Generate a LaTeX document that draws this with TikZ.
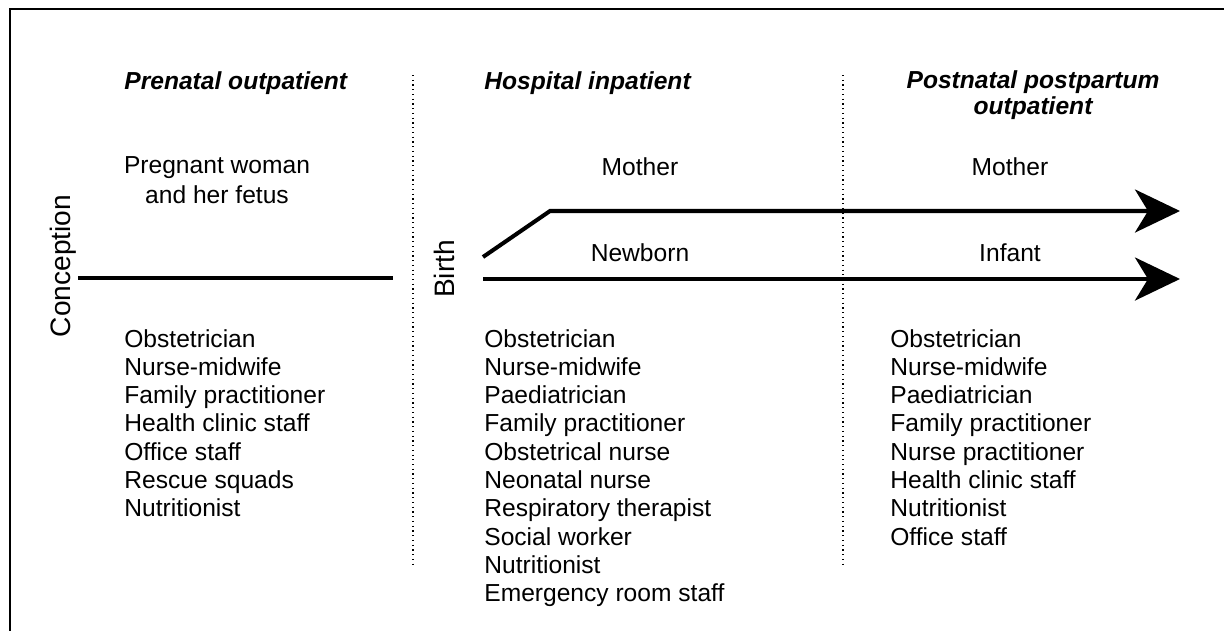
\documentclass[tikz,border=0pt]{standalone}
\usepackage{fontspec}
\setmainfont{Liberation Sans}
\usetikzlibrary{arrows.meta}

\begin{document}
\begin{tikzpicture}[x=0.02cm, y=-0.02cm,
    item/.style = {inner sep=0, anchor=base west, font=\fontsize{14}{16.1}\selectfont},
    head/.style = {inner sep=0, font=\fontsize{14}{16.1}\selectfont\bfseries\itshape},
    side/.style = {inner sep=0, rotate=90, font=\fontsize{16}{18}\selectfont},
    track/.style = {line width=2.3pt},
    period/.style = {dotted, line width=0.7pt},
    big/.style = {-{Stealth[length=0.9cm, width=0.86cm, inset=0.26cm]}}]
    \useasboundingbox (0,0) rectangle (1224,630);
    \clip (0,0) rectangle (1224,630);
    \draw [line width=1.2pt] (10,9) rectangle (1240,660);

    %%%%%%%%%% headings %%%%%%%%%%
    \node [head, anchor=base west] (hpre) at (124, 89) {Prenatal outpatient};
    \node [head, anchor=base west] (hhos) at (484, 89) {Hospital inpatient};
    \node [head, anchor=base] (hpost1) at (1033, 88) {Postnatal postpartum};
    \node [head, anchor=base] (hpost2) at (1033, 114) {outpatient};

    % period borders
    \coordinate (d1top) at (413, 75);
    \coordinate (d1bot) at (413, 568);
    \coordinate (d2top) at (843, 75);
    \coordinate (d2bot) at (843, 568);
    \draw [period] (d1top) -- (d1bot);
    \draw [period] (d2top) -- (d2bot);

    %%%%%%%%%% prenatal %%%%%%%%%%
    \node [item, anchor=base] (woman) at (217, 173) {Pregnant woman};
    \node [item, anchor=base] (fetus) at (217, 203) {and her fetus};
    \node [side] (conc) at (63, 266) {Conception};
    \coordinate (cstart) at (78, 278);
    \coordinate (cend) at (393, 278);
    \draw [track] (cstart) -- (cend);

    %%%%%%%%%% birth and after %%%%%%%%%%
    \node [side] (birth) at (444, 269) {Birth};
    \coordinate (mstart) at (483, 257);
    \coordinate (mbend) at (550, 211);
    \coordinate (mend) at (1180, 211);
    \coordinate (nstart) at (483, 279);
    \coordinate (nend) at (1180, 279);
    \draw [track, big] (mstart) -- (mbend) -- (mend);
    \draw [track, big] (nstart) -- (nend);

    \node [item, anchor=base] (mhos) at (640, 175) {Mother};
    \node [item, anchor=base] (newb) at (640, 261) {Newborn};
    \node [item, anchor=base] (mpost) at (1010, 175) {Mother};
    \node [item, anchor=base] (inf) at (1010, 261) {Infant};

    %%%%%%%%%% staff lists %%%%%%%%%%
    \foreach \t [count=\i from 0] in {Obstetrician, Nurse-midwife, Family practitioner,
        Health clinic staff, Office staff, Rescue squads, Nutritionist} {
        \node [item] (pre\i) at (124, {347+28.3*\i}) {\t};
    }
    \foreach \t [count=\i from 0] in {Obstetrician, Nurse-midwife, Paediatrician,
        Family practitioner, Obstetrical nurse, Neonatal nurse, Respiratory therapist,
        Social worker, Nutritionist, Emergency room staff} {
        \node [item] (hos\i) at (484, {347+28.3*\i}) {\t};
    }
    \foreach \t [count=\i from 0] in {Obstetrician, Nurse-midwife, Paediatrician,
        Family practitioner, Nurse practitioner, Health clinic staff, Nutritionist,
        Office staff} {
        \node [item] (post\i) at (890, {347+28.3*\i}) {\t};
    }
\end{tikzpicture}
\end{document}
